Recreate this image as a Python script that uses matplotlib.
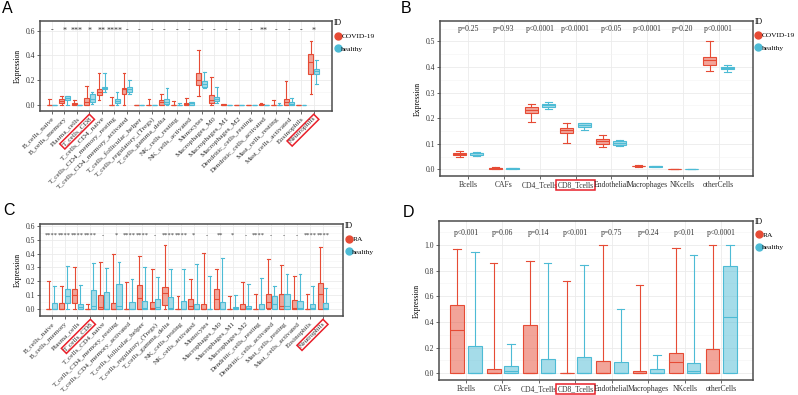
import matplotlib.pyplot as plt
import matplotlib.colors as mcolors
from matplotlib.lines import Line2D
from matplotlib.ticker import MultipleLocator

plt.rcParams['font.family'] = ['Liberation Serif', 'DejaVu Serif']

RED = '#E64B35'
BLUE = '#4DBBD5'
GREY = '#4D4D4D'

cells22 = ['B_cells_naive', 'B_cells_memory', 'Plasma_cells', 'T_cells_CD8',
           'T_cells_CD4_naive', 'T_cells_CD4_memory_resting',
           'T_cells_CD4_memory_activated', 'T_cells_follicular_helper',
           'T_cells_regulatory_(Tregs)', 'T_cells_gamma_delta', 'NK_cells_resting',
           'NK_cells_activated', 'Monocytes', 'Macrophages_M0', 'Macrophages_M1',
           'Macrophages_M2', 'Dendritic_cells_resting', 'Dendritic_cells_activated',
           'Mast_cells_resting', 'Mast_cells_activated', 'Eosinophils', 'Neutrophils']
cells8 = ['Bcells', 'CAFs', 'CD4_Tcells', 'CD8_Tcells', 'Endothelial',
          'Macrophages', 'NKcells', 'otherCells']

# each box: (lower whisker, q1, median, q3, upper whisker)
a_covid = [(0, 0, 0, 0, 0.05), (0, 0.013, 0.03, 0.046, 0.075), (0, 0, 0.008, 0.016, 0.043),
           (0, 0, 0.025, 0.055, 0.155), (0.04, 0.08, 0.105, 0.125, 0.255),
           (0, 0, 0, 0, 0.06), (0, 0.09, 0.125, 0.14, 0.255), (0, 0, 0, 0, 0),
           (0, 0, 0, 0, 0.05), (0, 0, 0.025, 0.04, 0.088), (0, 0, 0, 0, 0.035),
           (0, 0, 0.01, 0.016, 0.058), (0.07, 0.16, 0.205, 0.26, 0.445),
           (0, 0.015, 0.04, 0.08, 0.228), (0, 0, 0, 0.003, 0.01), (0, 0, 0, 0, 0),
           (0, 0, 0, 0, 0), (0, 0, 0.003, 0.008, 0.015), (0, 0, 0, 0, 0.04),
           (0, 0, 0.025, 0.05, 0.19), (0, 0, 0, 0, 0), (0.09, 0.246, 0.345, 0.413, 0.52)]
a_healthy = [(0, 0, 0, 0, 0), (0, 0.04, 0.055, 0.068, 0.075), (0, 0, 0, 0, 0),
             (0.01, 0.02, 0.05, 0.09, 0.108), (0.105, 0.125, 0.135, 0.145, 0.255),
             (0, 0.015, 0.03, 0.045, 0.1), (0.088, 0.105, 0.125, 0.145, 0.2),
             (0, 0, 0, 0, 0), (0, 0, 0, 0, 0), (0, 0.005, 0.025, 0.045, 0.133),
             (0, 0, 0, 0, 0.015), (0, 0, 0.012, 0.02, 0.025),
             (0.14, 0.145, 0.17, 0.195, 0.27), (0.015, 0.027, 0.047, 0.06, 0.143),
             (0, 0, 0, 0, 0), (0, 0, 0, 0, 0), (0, 0, 0, 0, 0), (0, 0, 0, 0, 0),
             (0, 0, 0, 0, 0.015), (0, 0, 0.01, 0.025, 0.055), (0, 0, 0, 0, 0),
             (0.168, 0.25, 0.273, 0.29, 0.365)]
a_sig = ['-', '*', '***', '*', '**', '****', '-', '-', '-', '-', '-', '-', '-', '-',
         '-', '-', '-', '**', '-', '-', '-', '*']

b_covid = [(0.047, 0.055, 0.06, 0.065, 0.073), (0.002, 0.003, 0.005, 0.007, 0.008),
           (0.184, 0.219, 0.232, 0.242, 0.257), (0.104, 0.142, 0.152, 0.163, 0.18),
           (0.089, 0.1, 0.109, 0.117, 0.135), (0.011, 0.012, 0.013, 0.015, 0.016),
           (0, 0, 0.0005, 0.001, 0.001), (0.385, 0.409, 0.426, 0.44, 0.5)]
b_healthy = [(0.053, 0.056, 0.062, 0.065, 0.069), (0.003, 0.003, 0.004, 0.005, 0.005),
             (0.234, 0.243, 0.25, 0.255, 0.263), (0.155, 0.165, 0.173, 0.18, 0.182),
             (0.092, 0.095, 0.103, 0.11, 0.113), (0.011, 0.011, 0.012, 0.013, 0.013),
             (0, 0, 0, 0, 0), (0.38, 0.393, 0.397, 0.401, 0.406)]
b_p = ['p=0.25', 'p=0.93', 'p<0.0001', 'p<0.0001', 'p<0.05', 'p<0.0001', 'p=0.20', 'p<0.0001']

c_ra = [(0, 0, 0, 0, 0.2), (0, 0, 0.002, 0.042, 0.17), (0, 0.042, 0.1, 0.142, 0.3),
        (0, 0, 0, 0, 0.04), (0, 0, 0.015, 0.1, 0.343), (0, 0, 0, 0.045, 0.395),
        (0, 0, 0, 0, 0.193), (0, 0, 0.077, 0.173, 0.383), (0, 0, 0.005, 0.053, 0.29),
        (0, 0.03, 0.113, 0.16, 0.465), (0, 0, 0, 0, 0.093), (0, 0, 0.022, 0.073, 0.217),
        (0, 0, 0, 0.04, 0.405), (0, 0, 0.07, 0.145, 0.287), (0, 0, 0, 0, 0.093),
        (0, 0, 0.002, 0.035, 0.195), (0, 0, 0, 0, 0.11), (0, 0.005, 0.052, 0.108, 0.363),
        (0, 0, 0.022, 0.107, 0.32), (0, 0, 0.005, 0.067, 0.24), (0, 0, 0, 0, 0.11),
        (0, 0, 0.107, 0.19, 0.447)]
c_healthy = [(0, 0, 0.003, 0.042, 0.17), (0, 0.042, 0.095, 0.142, 0.31),
             (0, 0, 0.015, 0.038, 0.175), (0, 0, 0.022, 0.138, 0.335),
             (0, 0, 0, 0.123, 0.295), (0, 0, 0.022, 0.18, 0.343), (0, 0, 0, 0.048, 0.218),
             (0, 0, 0.005, 0.06, 0.305), (0, 0, 0.017, 0.075, 0.232),
             (0, 0, 0.005, 0.088, 0.29), (0, 0, 0, 0.06, 0.292), (0, 0, 0, 0.038, 0.323),
             (0, 0, 0, 0, 0.238), (0, 0, 0, 0.05, 0.37), (0, 0, 0.005, 0.017, 0.1),
             (0, 0, 0.005, 0.022, 0.18), (0, 0, 0, 0.038, 0.225),
             (0, 0, 0.037, 0.093, 0.166), (0, 0, 0.022, 0.107, 0.255),
             (0, 0, 0.008, 0.06, 0.255), (0, 0, 0.005, 0.04, 0.163),
             (0, 0, 0.005, 0.042, 0.155)]
c_sig = ['****', '****', '****', '****', '-', '*', '****', '****', '-', '****', '****',
         '*', '-', '**', '*', '-', '****', '-', '-', '-', '****', '****']

d_ra = [(0, 0, 0.338, 0.53, 0.966), (0, 0, 0.005, 0.034, 0.86), (0, 0, 0.005, 0.377, 0.873),
        (0, 0, 0, 0.002, 0.722), (0, 0, 0, 0.096, 1.0), (0, 0, 0.005, 0.018, 0.686),
        (0, 0, 0.088, 0.161, 0.98), (0, 0, 0, 0.19, 1.0)]
d_healthy = [(0, 0, 0.005, 0.213, 0.943), (0, 0, 0.018, 0.057, 0.226),
             (0, 0, 0, 0.114, 0.86), (0, 0, 0, 0.13, 0.842), (0, 0, 0, 0.09, 0.498),
             (0, 0, 0, 0.03, 0.143), (0, 0, 0.016, 0.078, 0.922), (0, 0, 0.436, 0.836, 1.0)]
d_p = ['p<0.001', 'p=0.06', 'p=0.14', 'p<0.001', 'p=0.75', 'p=0.24', 'p<0.01', 'p<0.0001']


def boxes(ax, stats, pos, color, width, capw):
    st = [dict(whislo=s[0], q1=s[1], med=s[2], q3=s[3], whishi=s[4]) for s in stats]
    ax.bxp(st, positions=pos, widths=width, capwidths=capw, patch_artist=True,
           showfliers=False, manage_ticks=False,
           boxprops=dict(facecolor=mcolors.to_rgba(color, 0.5), edgecolor=color, linewidth=0.8),
           whiskerprops=dict(color=color, lw=0.8), capprops=dict(color=color, lw=0.8),
           medianprops=dict(color=color, lw=0.8))


def panel(rect, cats, red, blue, names, xlim, ylim, ystep, rotate, boxed, off, width, lsize):
    ax = fig.add_axes(rect)
    n = len(cats)
    boxes(ax, red, [i - off for i in range(n)], RED, width, width * 0.55)
    boxes(ax, blue, [i + off for i in range(n)], BLUE, width, width * 0.55)
    ax.set_xlim(*xlim)
    ax.set_ylim(*ylim)
    ax.set_xticks(range(n))
    if rotate:
        ax.set_xticklabels(cats, rotation=45, ha='right', rotation_mode='anchor')
    else:
        ax.set_xticklabels(cats)
    for lab in ax.get_xticklabels():
        lab.set_fontsize(lsize)
        if lab.get_text() in boxed:
            lab.set_bbox(dict(boxstyle='square,pad=0.15', fc='none', ec='#E8202A', lw=1.1))
    ax.yaxis.set_major_locator(MultipleLocator(ystep))
    ax.yaxis.set_minor_locator(MultipleLocator(ystep / 2))
    ax.yaxis.set_major_formatter(lambda v, p: f'{v:.1f}')
    ax.set_axisbelow(True)
    ax.grid(True, which='major', color='#EBEBEB', lw=0.6)
    ax.grid(True, which='minor', axis='y', color='#F3F3F3', lw=0.4)
    ax.tick_params(which='major', length=2, width=0.6, color=GREY,
                   labelcolor='#333333', pad=1.5)
    ax.tick_params(axis='y', labelsize=5.5)
    ax.tick_params(which='minor', length=0)
    for sp in ax.spines.values():
        sp.set_color(GREY)
        sp.set_linewidth(1.1)
    ax.set_ylabel('Expression', fontsize=5.5, labelpad=3)
    handles = [Line2D([], [], marker='o', ls='', color=RED, ms=5),
               Line2D([], [], marker='o', ls='', color=BLUE, ms=5)]
    ax.legend(handles, names, title='ID', loc='upper left', bbox_to_anchor=(1.006, 1.02),
              frameon=False, fontsize=5.4, title_fontsize=5.6, handletextpad=0.0,
              labelspacing=0.8, borderaxespad=0, borderpad=0, handlelength=1.0,
              alignment='left')
    return ax


fig = plt.figure(figsize=(7.98, 3.95), dpi=100)

axA = panel([0.0501, 0.719, 0.366, 0.228], cells22, a_covid, a_healthy,
            ['COVID-19', 'healthy'], (-0.96, 22.47), (-0.05, 0.68), 0.2, True,
            ['T_cells_CD8', 'Neutrophils'], 0.22, 0.4, 5.4)
for i, s in enumerate(a_sig):
    axA.text(i, 0.585, s, ha='center', va='baseline', fontsize=5.8, color='#333333')

axB = panel([0.5514, 0.5544, 0.392, 0.392], cells8, b_covid, b_healthy,
            ['COVID-19', 'healthy'], (-0.79, 7.96), (-0.026, 0.579), 0.1, False,
            ['CD8_Tcells'], 0.24, 0.36, 5.5)
for i, s in enumerate(b_p):
    axB.text(i, 0.547, s, ha='center', va='center', fontsize=5.5, color='#333333')

axC = panel([0.0501, 0.2, 0.3797, 0.233], cells22, c_ra, c_healthy,
            ['RA', 'healthy'], (-0.9, 22.55), (-0.05, 0.614), 0.1, True,
            ['T_cells_CD8', 'Neutrophils'], 0.22, 0.4, 5.2)
for i, s in enumerate(c_sig):
    axC.text(i, 0.52, s, ha='center', va='baseline', fontsize=4.6, color='#333333')

axD = panel([0.5501, 0.038, 0.3935, 0.4025], cells8, d_ra, d_healthy,
            ['RA', 'healthy'], (-0.74, 7.87), (-0.052, 1.187), 0.2, False,
            ['CD8_Tcells'], 0.24, 0.38, 5.5)
for i, s in enumerate(d_p):
    axD.text(i, 1.09, s, ha='center', va='center', fontsize=5.5, color='#333333')

for x, y, s in [(0.003, 0.997, 'A'), (0.502, 0.997, 'B'), (0.004, 0.486, 'C'), (0.505, 0.48, 'D')]:
    fig.text(x, y, s, fontsize=11.5, family='Liberation Sans', va='top', ha='left')

fig.savefig('out.png', dpi=100)
